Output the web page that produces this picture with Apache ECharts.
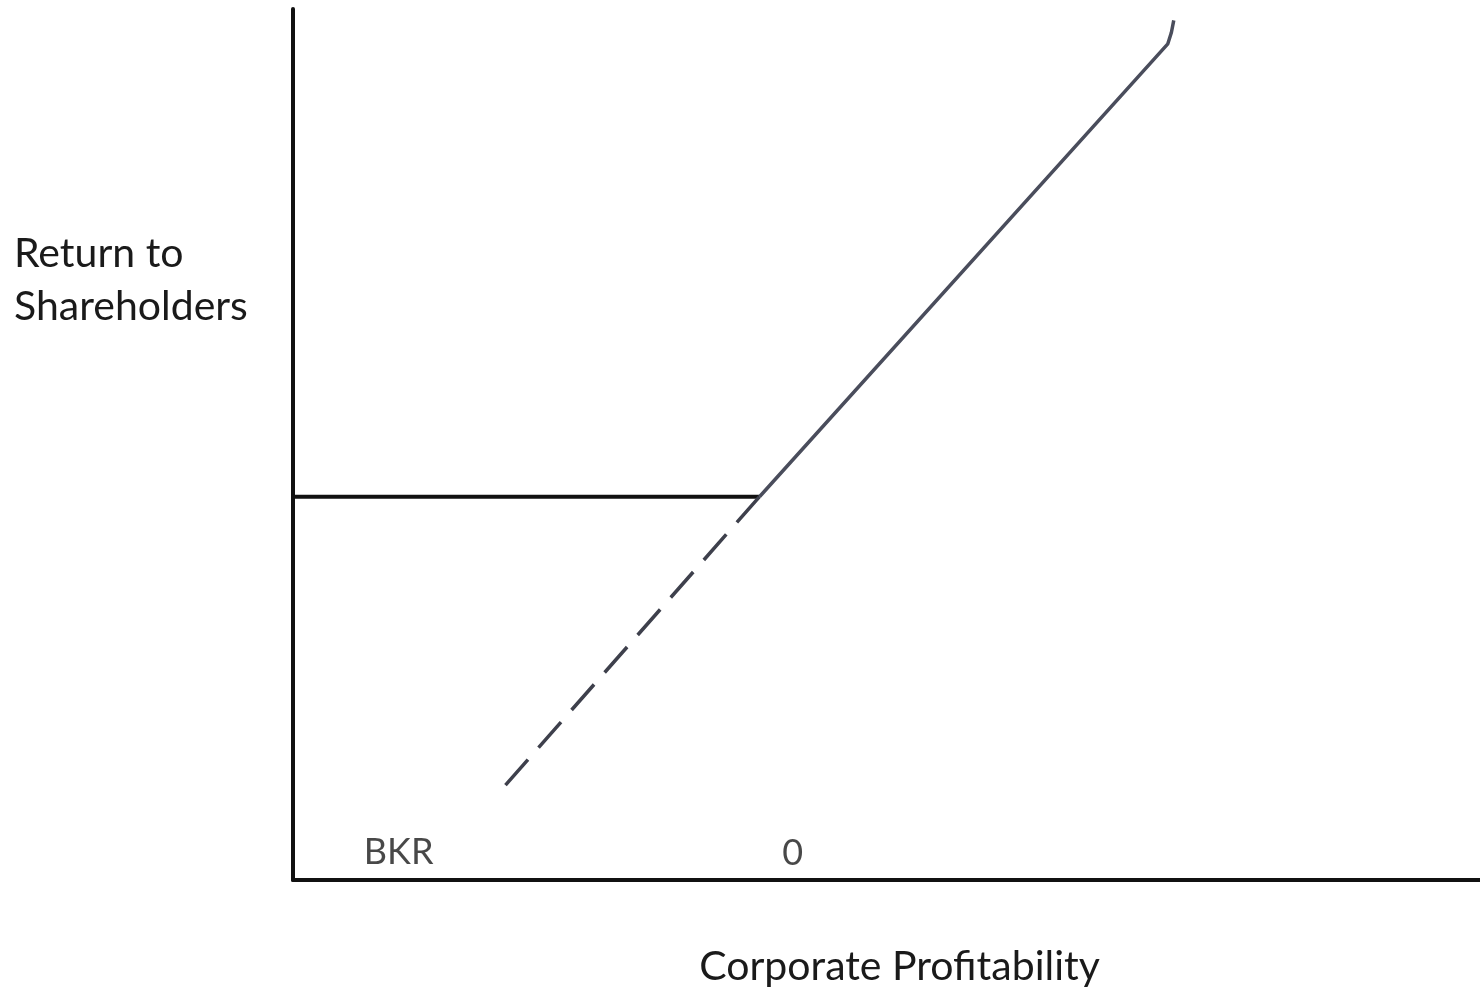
<!DOCTYPE html>
<html>
<head>
<meta charset="utf-8">
<style>html,body{margin:0;padding:0;background:#fff;}#chart{width:1480px;height:991px;}</style>
<script src="https://cdn.jsdelivr.net/npm/echarts@6/dist/echarts.min.js"></script>
</head>
<body>
<div id="chart"></div>
<script>
// Data (conceptual units: x 0..100 across the plot, y 0..100 up the plot)
const floorLine = [[0, 44.0], [39.3, 44.0]];
const solidLine = [[39.3, 44.0], [73.7, 96.0], [74.0, 97.3], [74.2, 98.7]];
const dashedLine = [[17.9, 10.9], [39.3, 44.0]];
const pointLabels = [['BKR', 8.9, 3.2], ['0', 42.1, 3.1]];
const xTitle = 'Corporate Profitability';
const yTitle = 'Return to\nShareholders';

const chart = echarts.init(document.getElementById('chart'));
const font = 'Lato, "Open Sans", sans-serif';
chart.setOption({
  animation: false,
  backgroundColor: '#fff',
  grid: { left: 293, right: 0, top: 9, bottom: 111, outerBoundsMode: 'none', containLabel: false },
  xAxis: {
    type: 'value', min: 0, max: 100,
    axisLine: { show: true, onZero: false, lineStyle: { color: '#111', width: 4 } },
    axisTick: { show: false }, axisLabel: { show: false }, splitLine: { show: false },
    name: xTitle, nameLocation: 'middle', nameGap: 66,
    nameTextStyle: { fontFamily: font, fontSize: 41, color: '#1a1a1a', padding: [0, 0, 0, 26] }
  },
  yAxis: {
    type: 'value', min: 0, max: 100,
    axisLine: { show: true, onZero: false, lineStyle: { color: '#111', width: 4 } },
    axisTick: { show: false }, axisLabel: { show: false }, splitLine: { show: false }
  },
  graphic: [{
    type: 'text', left: 14, top: 227,
    style: { text: yTitle, font: '41px ' + font, fill: '#1a1a1a', lineHeight: 53 }
  }],
  series: [
    { type: 'line', data: floorLine, symbol: 'none', lineStyle: { color: '#111', width: 4 } },
    { type: 'line', data: solidLine, symbol: 'none', lineStyle: { color: '#4a4d5c', width: 3.5 } },
    { type: 'line', data: dashedLine, symbol: 'none',
      lineStyle: { color: '#3e404c', width: 3.5, type: [34, 16] } },
    { type: 'scatter', symbolSize: 0,
      data: pointLabels.map(p => ({ value: [p[1], p[2]], name: p[0] })),
      label: { show: true, position: 'inside', formatter: '{b}',
        fontFamily: font, fontSize: 36, color: '#1a1a1a', textBorderWidth: 0 } }
  ]
});
</script>
</body>
</html>
